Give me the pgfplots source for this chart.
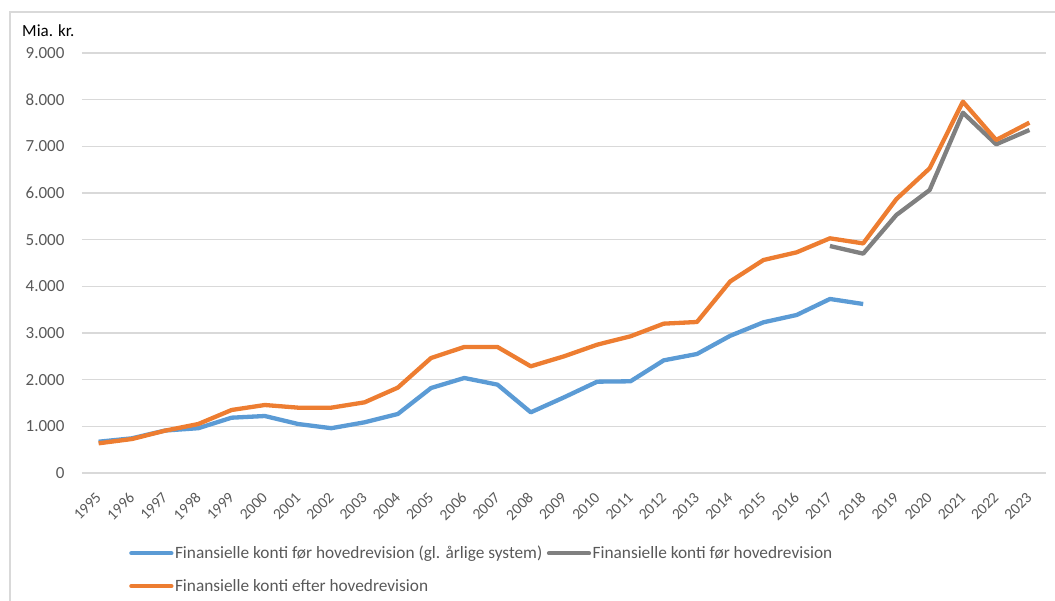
\documentclass[border=0pt]{standalone}
\usepackage{pgfplots}
\pgfplotsset{compat=1.18}
\usepackage{fontspec}
\setmainfont{Carlito}
\definecolor{cblue}{HTML}{5B9BD5}
\definecolor{corange}{HTML}{ED7D31}
\definecolor{cgray}{HTML}{808080}
\definecolor{gridc}{HTML}{D9D9D9}
\definecolor{tickc}{HTML}{595959}
\begin{document}
\begin{tikzpicture}[x=1bp,y=1bp]
\begin{axis}[
  at={(0,0)}, anchor=south west,
  width=964bp, height=420bp, scale only axis,
  xmin=1994.5, xmax=2023.5,
  ymin=0, ymax=9000,
  xtick={1995,...,2023},
  ytick={0,1000,...,9000},
  ymajorgrids, grid style={gridc, line width=1.5bp},
  axis line style={draw=none},
  major tick style={draw=none},
  font=\fontsize{17bp}{20bp}\selectfont,
  tick label style={text=tickc},
  /pgf/number format/assume math mode=true,
  /pgf/number format/1000 sep={.},
  x tick label style={/pgf/number format/1000 sep={}, font=\fontsize{15.5bp}{18bp}\selectfont, xshift=0bp, yshift=-22bp, rotate=45, anchor=east, inner sep=0pt},
  y tick label style={xshift=-14bp},
  legend columns=2,
  legend cell align=left,
  legend style={draw=none, fill=none, inner sep=0pt,
    at={(axis description cs:0.0488,-0.2298)}, anchor=west,
    font=\fontsize{17.3bp}{20bp}\selectfont, text=tickc,
    nodes={inner sep=1.5bp},
    /tikz/every even column/.append style={column sep=3bp},
    row sep=16bp},
  legend image code/.code={\draw[#1, line cap=round] (0bp,0bp) -- (40bp,0bp);},
  every axis plot/.append style={line width=4.3bp, line join=round, mark=none},
  clip=false,
]
\addplot[cblue] coordinates {
(1995,670) (1996,743) (1997,910) (1998,960) (1999,1185) (2000,1221)
(2001,1050) (2002,960) (2003,1086) (2004,1264) (2005,1821) (2006,2036)
(2007,1893) (2008,1300) (2009,1621) (2010,1957) (2011,1965) (2012,2414)
(2013,2550) (2014,2940) (2015,3229) (2016,3386) (2017,3729) (2018,3621)
};
\addlegendentry{Finansielle konti før hovedrevision (gl. årlige system)}
\addplot[cgray] coordinates {
(2017,4864) (2018,4700) (2019,5530) (2020,6064) (2021,7721) (2022,7043) (2023,7350)
};
\addlegendentry{Finansielle konti før hovedrevision}
\addplot[corange] coordinates {
(1995,636) (1996,728) (1997,907) (1998,1050) (1999,1350) (2000,1457)
(2001,1400) (2002,1400) (2003,1514) (2004,1829) (2005,2464) (2006,2700)
(2007,2700) (2008,2286) (2009,2500) (2010,2750) (2011,2929) (2012,3200)
(2013,3236) (2014,4105) (2015,4564) (2016,4729) (2017,5029) (2018,4920)
(2019,5870) (2020,6529) (2021,7957) (2022,7136) (2023,7507)
};
\addlegendentry{Finansielle konti efter hovedrevision}
\node[anchor=west, inner sep=0pt, font=\fontsize{17bp}{20bp}\selectfont] at (rel axis cs:-0.0622,1.0524) {Mia. kr.};
\end{axis}
\draw[gridc, line width=1.5bp] (-72,-140) -- (-72,461) -- (985,461);
\pgfresetboundingbox
\useasboundingbox (-82,-128) rectangle (973,473);
\end{tikzpicture}
\end{document}
